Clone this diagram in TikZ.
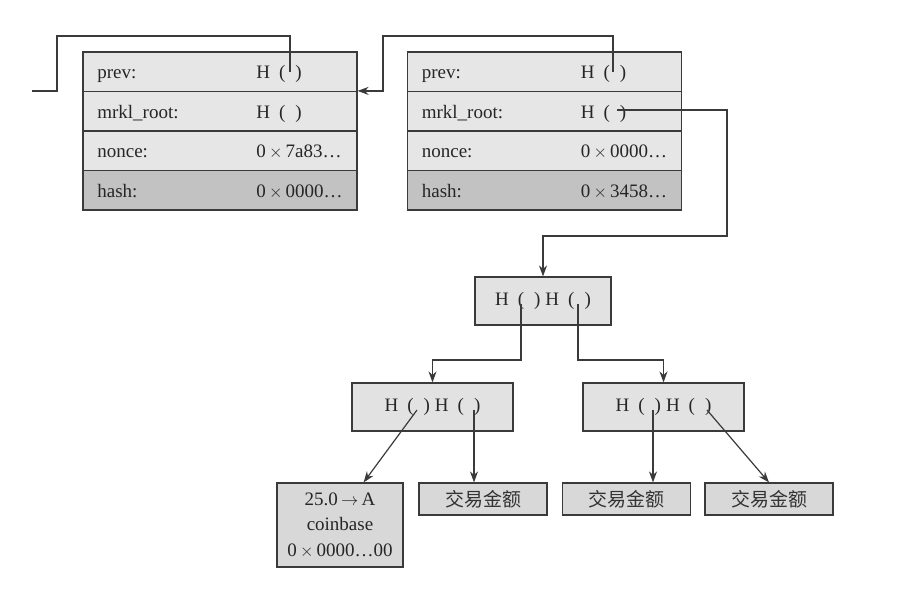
\documentclass[tikz,border=0pt]{standalone}
\usepackage{fontspec}
\setmainfont{Liberation Serif}
\newfontfamily\cjk{Noto Sans CJK SC}
\usetikzlibrary{arrows.meta}

\definecolor{linegray}{HTML}{3A3A3A}
\definecolor{rowgray}{HTML}{E6E6E6}
\definecolor{hashgray}{HTML}{C2C2C2}
\definecolor{boxgray}{HTML}{E2E2E2}
\definecolor{leafgray}{HTML}{D8D8D8}

\begin{document}
\begin{tikzpicture}[x=1pt, y=-1pt, line width=1.2pt, draw=linegray,
  >={Stealth[length=11pt,width=8pt]},
  font=\fontsize{19}{21}\selectfont,
  row/.style={draw=linegray, fill=rowgray, minimum width=274pt, minimum height=39.5pt, inner sep=0pt},
  key/.style={anchor=base west, xshift=11pt, yshift=-7pt, text=black!85},
  val/.style={anchor=base west, xshift=170pt, yshift=-7pt, text=black!85},
  hbox/.style={draw=linegray, fill=boxgray, minimum height=48pt, inner sep=0pt, text=black!85},
  leaf/.style={draw=linegray, fill=leafgray, minimum width=128pt, minimum height=32pt, inner sep=0pt,
    font=\cjk\fontsize{19}{21}\selectfont, text=black!80}]
\useasboundingbox (0,0) rectangle (902,606);

% first block
\node[row] (aprev) at (220,71.75) {};
\node[row] (amrkl) at (220,111.25) {};
\node[row] (anonce) at (220,150.75) {};
\node[row, fill=hashgray] (ahash) at (220,190.25) {};
\node[key] at (aprev.west) {prev:};
\node[key] at (amrkl.west) {mrkl\_root:};
\node[key] at (anonce.west) {nonce:};
\node[key] at (ahash.west) {hash:};
\node[val] at (aprev.west) {H\hspace{9pt}(\hspace{10pt})};
\node[val] at (amrkl.west) {H\hspace{9pt}(\hspace{10pt})};
\node[val] at (anonce.west) {0\,$\times$\,7a83…};
\node[val] at (ahash.west) {0\,$\times$\,0000…};

% second block
\node[row] (bprev) at (544.5,71.75) {};
\node[row] (bmrkl) at (544.5,111.25) {};
\node[row] (bnonce) at (544.5,150.75) {};
\node[row, fill=hashgray] (bhash) at (544.5,190.25) {};
\node[key] at (bprev.west) {prev:};
\node[key] at (bmrkl.west) {mrkl\_root:};
\node[key] at (bnonce.west) {nonce:};
\node[key] at (bhash.west) {hash:};
\node[val] at (bprev.west) {H\hspace{9pt}(\hspace{10pt})};
\node[val] at (bmrkl.west) {H\hspace{9pt}(\hspace{10pt})};
\node[val] at (bnonce.west) {0\,$\times$\,0000…};
\node[val] at (bhash.west) {0\,$\times$\,3458…};

\coordinate (aprevh) at (290,72);
\coordinate (aout) at (32,91);
\coordinate (bprevh) at (613,72);
\coordinate (bmrklh) at (617,110);

\draw (aprevh) |- (57,36) |- (aout);
\draw [->] (bprevh) |- (383,36) |- (amrkl.north east);

% merkle tree
\node[hbox, minimum width=136pt] (root) at (543,301) {H\hspace{9pt}(\hspace{10pt})\hspace{5pt}H\hspace{9pt}(\hspace{10pt})};
\node[hbox, minimum width=161pt] (midl) at (432.5,407) {H\hspace{9pt}(\hspace{10pt})\hspace{5pt}H\hspace{9pt}(\hspace{10pt})};
\node[hbox, minimum width=161pt] (midr) at (663.5,407) {H\hspace{9pt}(\hspace{10pt})\hspace{5pt}H\hspace{9pt}(\hspace{10pt})};

\node[leaf, font=\fontsize{19}{25.5}\selectfont, text=black!85, align=center, minimum width=126pt, minimum height=84pt] (cb) at (340,525)
  {25.0\,$\rightarrow$\,A\\coinbase\\0\,$\times$\,0000…00};
\node[leaf] (txa) at (483,499) {交易金额};
\node[leaf] (txb) at (626.5,499) {交易金额};
\node[leaf] (txc) at (769,499) {交易金额};

\coordinate (rootl) at (521,304);
\coordinate (rootr) at (578,304);
\coordinate (midla) at (417,410);
\coordinate (midlb) at (474,410);
\coordinate (midra) at (653,410);
\coordinate (midrb) at (707,410);

\draw [->] (bmrklh) -| (727,236) -| (root.north);
\draw [->] (rootl) -- (521,360) -| (midl.north);
\draw [->] (rootr) -- (578,360) -| (midr.north);
\draw [->] (midla) -- (cb.61);
\draw [->] (midlb) -- (midlb |- txa.north);
\draw [->] (midra) -- (midra |- txb.north);
\draw [->] (midrb) -- (txc.north);
\end{tikzpicture}
\end{document}
